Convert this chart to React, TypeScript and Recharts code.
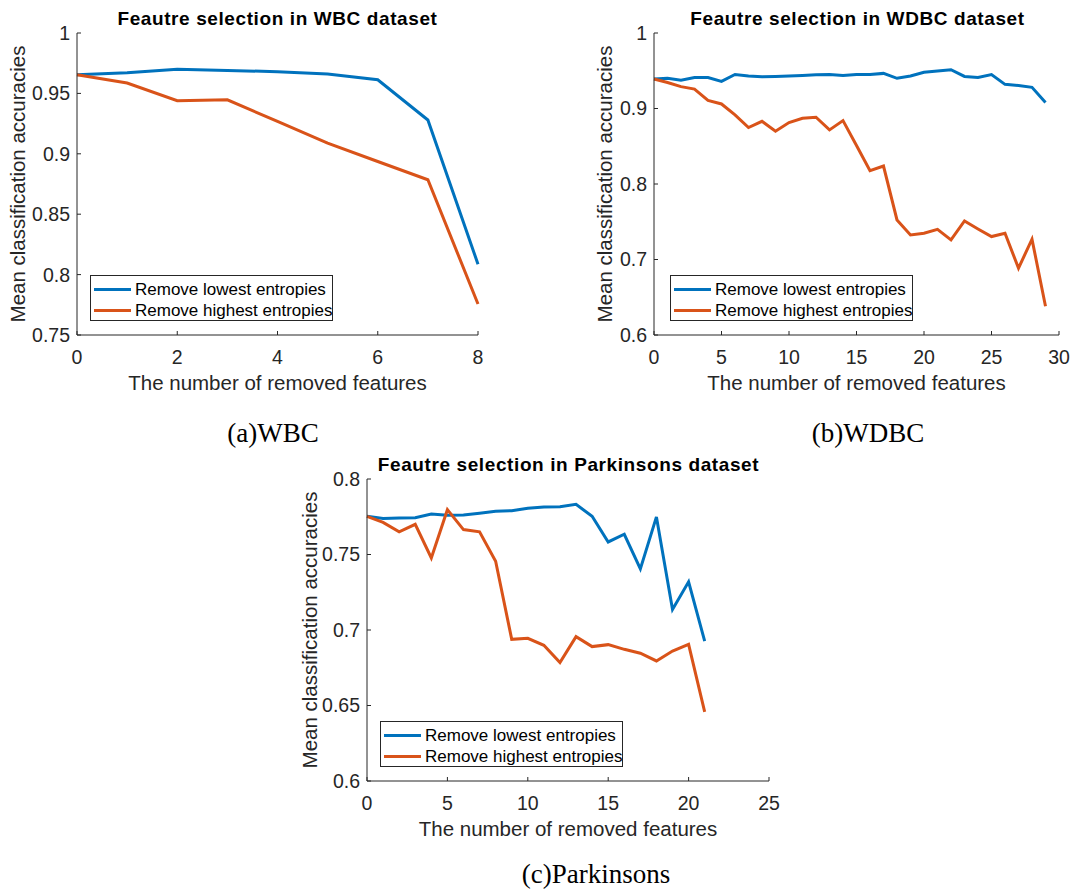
import React from "react";
import { LineChart, Line, XAxis, YAxis, Legend, Label } from "recharts";

// (a) WBC
const wbcFeatures = [0, 1, 2, 3, 4, 5, 6, 7, 8];
const wbcLowest = [0.9655, 0.967, 0.970, 0.969, 0.968, 0.966, 0.9613, 0.928, 0.8086];
const wbcHighest = [0.9655, 0.9586, 0.944, 0.9447, 0.9268, 0.9088, 0.8936, 0.8785, 0.7757];
const wbcXTicks = [0, 2, 4, 6, 8];
const wbcYTicks = [0.75, 0.8, 0.85, 0.9, 0.95, 1];

// (b) WDBC
const wdbcFeatures = [
  0, 1, 2, 3, 4, 5, 6, 7, 8, 9, 10, 11, 12, 13, 14, 15, 16, 17, 18, 19, 20, 21, 22, 23, 24, 25, 26, 27, 28, 29,
];
const wdbcLowest = [
  0.939, 0.94, 0.9376, 0.941, 0.941, 0.936, 0.945, 0.943, 0.942, 0.9425, 0.943, 0.9438, 0.9447, 0.945, 0.9438,
  0.945, 0.945, 0.9465, 0.94, 0.943, 0.948, 0.9496, 0.9513, 0.9425, 0.941, 0.945, 0.932, 0.9305, 0.928, 0.908,
];
const wdbcHighest = [
  0.939, 0.9345, 0.929, 0.9257, 0.9106, 0.906, 0.8916, 0.8748, 0.883, 0.87, 0.8814, 0.887, 0.8885, 0.8717, 0.884,
  0.851, 0.8176, 0.8238, 0.7524, 0.7326, 0.7348, 0.74, 0.726, 0.751, 0.7405, 0.7304, 0.7348, 0.6885, 0.7269, 0.638,
];
const wdbcXTicks = [0, 5, 10, 15, 20, 25, 30];
const wdbcYTicks = [0.6, 0.7, 0.8, 0.9, 1];

// (c) Parkinsons
const parkFeatures = [0, 1, 2, 3, 4, 5, 6, 7, 8, 9, 10, 11, 12, 13, 14, 15, 16, 17, 18, 19, 20, 21];
const parkLowest = [
  0.7753, 0.7738, 0.7742, 0.7744, 0.7768, 0.776, 0.7762, 0.7773, 0.7786, 0.779, 0.7806, 0.7815, 0.7817, 0.7832,
  0.7753, 0.7583, 0.7634, 0.7405, 0.7749, 0.7136, 0.7319, 0.6927,
];
const parkHighest = [
  0.7753, 0.7713, 0.765, 0.77, 0.7477, 0.7797, 0.7665, 0.765, 0.7455, 0.6938, 0.6945, 0.6899, 0.6784, 0.6956,
  0.689, 0.6903, 0.6872, 0.6846, 0.6795, 0.6861, 0.6905, 0.6458,
];
const parkXTicks = [0, 5, 10, 15, 20, 25];
const parkYTicks = [0.6, 0.65, 0.7, 0.75, 0.8];

const seriesNames = ["Remove lowest entropies", "Remove highest entropies"];
const BLUE = "#0072BD";
const ORANGE = "#D95319";
const AXIS = "#262626";
const SANS = '"Liberation Sans", Arial, Helvetica, sans-serif';
const SERIF = '"Liberation Serif", "Times New Roman", serif';

const fmt = (v: number) => String(Number(v.toFixed(2)));

function buildRows(xs: number[], low: number[], high: number[]) {
  return xs.map((x, i) => ({ x, low: low[i], high: high[i] }));
}

function LegendBox({ payload }: { payload?: Array<{ value: string; color: string }> }) {
  // keep the plotting order, recharts sorts the payload by name
  const items = seriesNames
    .map((name) => (payload || []).find((p) => p.value === name))
    .filter(Boolean) as Array<{ value: string; color: string }>;
  return (
    <div
      style={{
        width: 243,
        height: 46,
        boxSizing: "border-box",
        border: `1px solid ${AXIS}`,
        background: "#fff",
        fontFamily: SANS,
        fontSize: 17,
        color: "#000",
        paddingTop: 3,
        whiteSpace: "nowrap",
      }}
    >
      {items.map((p) => (
        <div key={p.value} style={{ display: "flex", alignItems: "center", height: 21 }}>
          <div style={{ width: 37, height: 3, marginLeft: 3, background: p.color, flex: "none" }} />
          <span style={{ marginLeft: 4, lineHeight: "21px" }}>{p.value}</span>
        </div>
      ))}
    </div>
  );
}

interface PanelProps {
  left: number;
  top: number;
  width: number;
  rightMargin: number;
  yWidth: number;
  yLabelOffset: number;
  data: { x: number; low: number; high: number }[];
  xDomain: [number, number];
  xTicks: number[];
  yDomain: [number, number];
  yTicks: number[];
}

function Panel(p: PanelProps) {
  const tickStyle = { fill: AXIS, fontSize: 19.5, fontFamily: SANS };
  return (
    <div style={{ position: "absolute", left: p.left, top: p.top }}>
      <LineChart
        width={p.width}
        height={400}
        data={p.data}
        margin={{ top: 33, right: p.rightMargin, bottom: 7, left: 0 }}
      >
        <XAxis
          dataKey="x"
          type="number"
          domain={p.xDomain}
          ticks={p.xTicks}
          interval={0}
          height={58}
          tick={tickStyle}
          tickSize={-4}
          tickMargin={19}
          axisLine={{ stroke: AXIS }}
          tickLine={{ stroke: AXIS }}
        >
          <Label
            value="The number of removed features"
            position="insideBottom"
            offset={3}
            style={{ fill: AXIS, fontSize: 20.5, fontFamily: SANS }}
          />
        </XAxis>
        <YAxis
          type="number"
          domain={p.yDomain}
          ticks={p.yTicks}
          interval={0}
          width={p.yWidth}
          tick={tickStyle}
          tickFormatter={fmt}
          tickSize={-4}
          tickMargin={11}
          axisLine={{ stroke: AXIS }}
          tickLine={{ stroke: AXIS }}
          allowDataOverflow
        >
          <Label
            value="Mean classification accuracies"
            angle={-90}
            position="insideLeft"
            offset={p.yLabelOffset}
            style={{ fill: AXIS, fontSize: 20.5, fontFamily: SANS, textAnchor: "middle" }}
          />
        </YAxis>
        <Legend
          layout="vertical"
          align="center"
          verticalAlign="middle"
          content={<LegendBox />}
          wrapperStyle={{ left: 90, top: 275, width: 243, height: 46 }}
        />
        <Line
          type="linear"
          dataKey="low"
          name={seriesNames[0]}
          stroke={BLUE}
          strokeWidth={3}
          dot={false}
          isAnimationActive={false}
        />
        <Line
          type="linear"
          dataKey="high"
          name={seriesNames[1]}
          stroke={ORANGE}
          strokeWidth={3}
          dot={false}
          isAnimationActive={false}
        />
      </LineChart>
    </div>
  );
}

export default function App() {
  return (
    <div style={{ position: "absolute", left: 0, top: 0, width: 1073, height: 891, background: "#fff" }}>
      <Panel
        left={0}
        top={0}
        width={500}
        rightMargin={22}
        yWidth={77}
        yLabelOffset={18}
        data={buildRows(wbcFeatures, wbcLowest, wbcHighest)}
        xDomain={[0, 8]}
        xTicks={wbcXTicks}
        yDomain={[0.75, 1]}
        yTicks={wbcYTicks}
      />
      <Panel
        left={580}
        top={0}
        width={493}
        rightMargin={14}
        yWidth={74}
        yLabelOffset={25}
        data={buildRows(wdbcFeatures, wdbcLowest, wdbcHighest)}
        xDomain={[0, 30]}
        xTicks={wdbcXTicks}
        yDomain={[0.6, 1]}
        yTicks={wdbcYTicks}
      />
      <Panel
        left={290}
        top={446}
        width={500}
        rightMargin={21}
        yWidth={77}
        yLabelOffset={20}
        data={buildRows(parkFeatures, parkLowest, parkHighest)}
        xDomain={[0, 25]}
        xTicks={parkXTicks}
        yDomain={[0.6, 0.8]}
        yTicks={parkYTicks}
      />
      <svg
        width={1073}
        height={891}
        style={{ position: "absolute", left: 0, top: 0, pointerEvents: "none" }}
      >
        <g fontFamily={SANS} fontWeight="bold" fontSize={19} fill="#000" textAnchor="middle" letterSpacing={0.6}>
          <text x={277.5} y={25}>Feautre selection in WBC dataset</text>
          <text x={857.5} y={25}>Feautre selection in WDBC dataset</text>
          <text x={568.5} y={470.5}>Feautre selection in Parkinsons dataset</text>
        </g>
        <g fontFamily={SERIF} fontSize={27} fill="#000" textAnchor="middle">
          <text x={273} y={441.5}>(a)WBC</text>
          <text x={868} y={441.5}>(b)WDBC</text>
          <text x={596} y={883}>(c)Parkinsons</text>
        </g>
      </svg>
    </div>
  );
}
